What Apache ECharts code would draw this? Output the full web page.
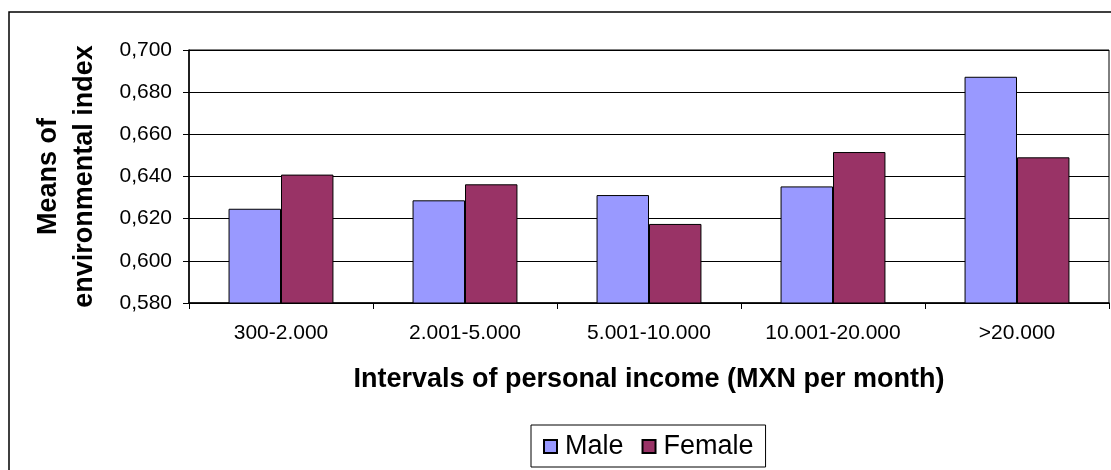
<!DOCTYPE html>
<html>
<head>
<meta charset="utf-8">
<script src="https://cdn.jsdelivr.net/npm/echarts@6/dist/echarts.min.js"></script>
<style>html,body{margin:0;padding:0;background:#fff}#c{width:1111px;height:470px}</style>
</head>
<body>
<div id="c"></div>
<script>
const categories = ['300-2.000', '2.001-5.000', '5.001-10.000', '10.001-20.000', '>20.000'];
const maleValues = [0.6247, 0.6287, 0.6312, 0.6353, 0.6873];
const femaleValues = [0.6409, 0.6363, 0.6175, 0.6516, 0.6491];
const seriesNames = ['Male', 'Female'];
const yTitle = 'Means of\nenvironmental index';
const xTitle = 'Intervals of personal income (MXN per month)';

const FONT = 'Liberation Sans, Arial, sans-serif';
const chart = echarts.init(document.getElementById('c'), null, {renderer: 'canvas'});
chart.setOption({
  animation: false,
  backgroundColor: '#fff',
  textStyle: {fontFamily: FONT},
  graphic: [{
    type: 'rect', z: -1, silent: true,
    shape: {x: 9, y: 12, width: 1300, height: 600},
    style: {fill: 'none', stroke: '#000', lineWidth: 1.5}
  }],
  grid: {left: 189, top: 50, width: 920, height: 253, show: true, borderColor: '#000', borderWidth: 1, backgroundColor: 'transparent'},
  legend: {
    data: seriesNames,
    left: 531, top: 425,
    padding: [8, 12, 7, 12],
    borderColor: '#000', borderWidth: 1,
    itemWidth: 13, itemHeight: 13, itemGap: 18,
    icon: 'rect',
    textStyle: {fontFamily: FONT, fontSize: 27, color: '#000', padding: [0, 0, 0, 3]}
  },
  xAxis: {
    type: 'category',
    data: categories,
    name: xTitle,
    nameLocation: 'middle',
    nameGap: 63,
    nameTextStyle: {fontFamily: FONT, fontSize: 27, fontWeight: 'bold', color: '#000'},
    axisLine: {lineStyle: {color: '#000', width: 1.5}},
    axisTick: {show: true, length: 6, lineStyle: {color: '#000'}},
    axisLabel: {fontFamily: FONT, fontSize: 21, color: '#000', margin: 20, interval: 0},
    splitLine: {show: false}
  },
  yAxis: {
    type: 'value',
    min: 0.58, max: 0.70, interval: 0.02,
    name: yTitle,
    nameLocation: 'middle',
    nameRotate: 90,
    nameGap: 86,
    nameTextStyle: {fontFamily: FONT, fontSize: 27, fontWeight: 'bold', color: '#000', lineHeight: 36, align: 'center'},
    axisLine: {show: true, lineStyle: {color: '#000', width: 1.5}},
    axisTick: {show: true, length: 6, lineStyle: {color: '#000'}},
    axisLabel: {fontFamily: FONT, fontSize: 21, color: '#000', margin: 17,
      formatter: v => v.toFixed(3).replace('.', ',')},
    splitLine: {show: true, lineStyle: {color: '#000', width: 1}}
  },
  series: [
    {name: seriesNames[0], type: 'bar', data: maleValues, barGap: '0%', barCategoryGap: '43%',
     itemStyle: {color: '#9999FF', borderColor: '#000', borderWidth: 1}},
    {name: seriesNames[1], type: 'bar', data: femaleValues, barGap: '0%', barCategoryGap: '43%',
     itemStyle: {color: '#993366', borderColor: '#000', borderWidth: 1}}
  ]
});
</script>
</body>
</html>
